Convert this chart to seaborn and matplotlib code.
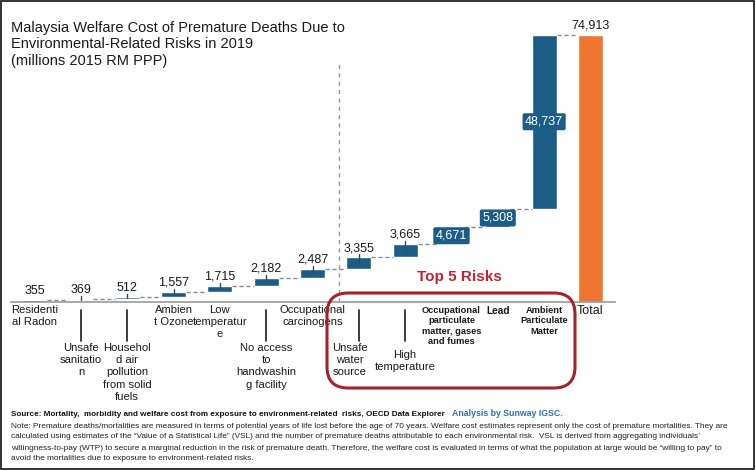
import matplotlib
matplotlib.use("Agg")
import matplotlib.pyplot as plt
import matplotlib.transforms as mtrans
from matplotlib.patches import FancyBboxPatch, Rectangle
import numpy as np
import pandas as pd
import seaborn as sns

# ---------------- data ----------------
categories = ["Residential Radon", "Unsafe sanitation",
              "Household air pollution from solid fuels", "Ambient Ozone",
              "Low temperature", "No access to handwashing facility",
              "Occupational carcinogens", "Unsafe water source",
              "High temperature",
              "Occupational particulate matter, gases and fumes",
              "Lead", "Ambient Particulate Matter", "Total"]
tick_labels = ["Residenti\nal Radon", "Unsafe\nsanitatio\nn",
               "Househol\nd air\npollution\nfrom solid\nfuels",
               "Ambien\nt Ozone", "Low\ntemperatur\ne",
               "No access\nto\nhandwashin\ng facility",
               "Occupational\ncarcinogens", "Unsafe\nwater\nsource",
               "High\ntemperature",
               "Occupational\nparticulate\nmatter, gases\nand fumes",
               "Lead", "Ambient\nParticulate\nMatter", "Total"]
values = [355, 369, 512, 1557, 1715, 2182, 2487, 3355, 3665, 4671, 5308, 48737]
top5 = ["Unsafe water source", "High temperature",
        "Occupational particulate matter, gases and fumes", "Lead",
        "Ambient Particulate Matter"]

total = sum(values)
heights = values + [total]
bottoms = list(np.concatenate([[0], np.cumsum(values)[:-1]])) + [0]
tops = [b + h for b, h in zip(bottoms, heights)]

BLUE = "#1c5d87"
ORANGE = "#ee7630"
RED = "#a3222c"

df = pd.DataFrame({"cat": categories, "h": heights, "b": bottoms})

W, H = 756, 470
fig = plt.figure(figsize=(W / 100, H / 100), dpi=100)
sns.set_style("white")
plt.rcParams["font.family"] = ["Liberation Sans", "DejaVu Sans"]

ax_left, ax_right = 11 / W, 615 / W
base_px = 301.7
ymax = 80000
px_per = 266.7 / total
top_px = base_px - ymax * px_per
ax = fig.add_axes([ax_left, 1 - base_px / H, ax_right - ax_left, (base_px - top_px) / H])

sns.barplot(data=df, x="cat", y="h", color=BLUE, bottom=df["b"].values,
            width=0.54, ax=ax, saturation=1, order=categories, errorbar=None)
ax.patches[-1].set_facecolor(ORANGE)

ax.set_xlim(-0.51, 12.53)
ax.set_ylim(0, ymax)
ax.set_xlabel("")
ax.set_ylabel("")
ax.set_xticks([])
ax.set_yticks([])
for s in ["top", "right", "left"]:
    ax.spines[s].set_visible(False)
ax.spines["bottom"].set_color("#9a9a9a")
ax.spines["bottom"].set_linewidth(1.2)

hw = 0.27
# connectors
for i in range(len(values)):
    ax.plot([i + hw, i + 1 - hw], [tops[i], tops[i]], color="#8a8a8a",
            lw=1, ls=(0, (3, 2)), zorder=1)

# small center ticks
for i in range(1, 9):
    mid = bottoms[i] + heights[i] / 2
    ax.plot([i, i], [tops[i] + 850, mid], color="#3b4754", lw=1, zorder=3)

# dashed separator
ax.plot([6.57, 6.57], [0, 67000], color="#9a9a9a", lw=1, ls=(0, (3, 3)), zorder=1)

# data labels
inside = {9, 10, 11}
for i, (t, h) in enumerate(zip(tops, heights)):
    lab = f"{h:,}"
    if i in inside:
        ax.text(i, bottoms[i] + h / 2, lab, ha="center", va="center",
                color="white", fontsize=9, zorder=5,
                bbox=dict(boxstyle="round,pad=0.2,rounding_size=0.15", fc=BLUE, ec="none"))
    else:
        ax.annotate(lab, (i, t), xytext=(0, 2.2), textcoords="offset points",
                    ha="center", va="bottom", fontsize=9, color="#1a1a1a")

# category labels
tr = mtrans.blended_transform_factory(ax.transData, fig.transFigure)
def fy(ypx):
    return 1 - ypx / H

lower = {1: 343, 2: 343, 5: 343, 7: 343, 8: 350}
xoff = {7: -0.19}
for i, lab in enumerate(tick_labels):
    c = categories[i]
    if c in top5 and i not in lower:
        fs = 7.3 if c == "Lead" else 6.7
        ax.text(i, fy(306), lab, transform=tr, ha="center", va="top",
                fontsize=fs, fontweight="bold", linespacing=1.2, color="#1a1a1a")
    elif i in lower:
        ax.plot([i, i], [fy(310), fy(341)], transform=tr, color="#1a1a1a", lw=1.2,
                clip_on=False)
        ax.text(i + xoff.get(i, 0), fy(lower[i]), lab, transform=tr, ha="center",
                va="top", fontsize=8.1, linespacing=1.28, color="#1a1a1a")
    else:
        fs = 9 if c == "Total" else 8.1
        ax.text(i, fy(305), lab, transform=tr, ha="center", va="top",
                fontsize=fs, linespacing=1.28, color="#1a1a1a")

# top 5 box
x0 = 327 / W
y0 = fy(388)
box = FancyBboxPatch((x0, y0), (575 - 327) / W, (388 - 293) / H,
                     boxstyle="round,pad=0,rounding_size=0.028",
                     transform=fig.transFigure, fc="none", ec=RED, lw=2.2,
                     mutation_aspect=W / H)
fig.patches.append(box)
fig.text(459 / W, fy(277), "Top 5 Risks", ha="center", va="center",
         fontsize=11, fontweight="bold", color="#c8202e")

# title
title_lines = ["Malaysia Welfare Cost of Premature Deaths Due to",
               "Environmental-Related Risks in 2019",
               "(millions 2015 RM PPP)"]
for k, line in enumerate(title_lines):
    fig.text(11 / W, fy(28 + 16.5 * k), line, ha="left", va="center",
             fontsize=10.5, color="#1a1a1a")

# footer
fig.text(11 / W, fy(415),
         "Source: Mortality,  morbidity and welfare cost from exposure to environment-related  risks, OECD Data Explorer",
         ha="left", va="center", fontsize=5.9, fontweight="bold", color="#111111",
         family=["Liberation Sans Narrow", "Liberation Sans"])
fig.text(452 / W, fy(414), "Analysis by Sunway IGSC.", ha="left", va="center",
         fontsize=6.3, fontweight="bold", color="#2f6fae",
         family=["Liberation Sans Narrow", "Liberation Sans"])
note = [
    "Note: Premature deaths/mortalities are measured in terms of potential years of life lost before the age of 70 years. Welfare cost estimates represent only the cost of premature mortalities. They are",
    "calculated using estimates of the \u201cValue of a Statistical Life\u201d (VSL) and the number of premature deaths attributable to each environmental risk.  VSL is derived from aggregating individuals\u2019",
    "willingness-to-pay (WTP) to secure a marginal reduction in the risk of premature death. Therefore, the welfare cost is evaluated in terms of what the population at large would be \u201cwilling to pay\u201d to",
    "avoid the mortalities due to exposure to environment-related risks.",
]
for k, line in enumerate(note):
    fig.text(11 / W, fy(426 + 11 * k), line, ha="left", va="center",
             fontsize=5.95, color="#222222",
             family=["Liberation Sans Narrow", "Liberation Sans"])

# outer border
fig.patches.append(Rectangle((0.001, 0.003), 0.997, 0.995, transform=fig.transFigure,
                             fill=False, ec="#222222", lw=1.3))

fig.savefig("out.png", dpi=100)
